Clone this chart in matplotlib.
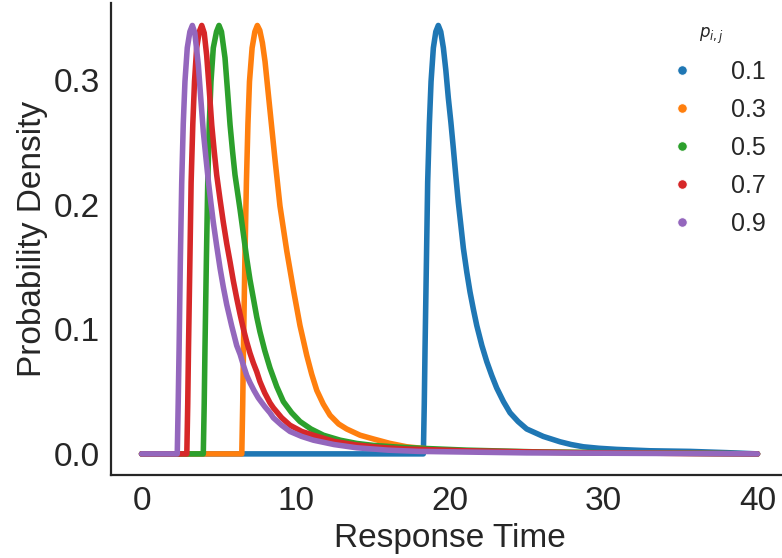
import matplotlib
matplotlib.use("Agg")
import matplotlib.pyplot as plt
from matplotlib.lines import Line2D

plt.rcParams['font.family'] = ['Liberation Sans', 'DejaVu Sans']

# values
p_labels = ['0.1', '0.3', '0.5', '0.7', '0.9']
colors = ['#1f77b4', '#ff7f0e', '#2ca02c', '#d62728', '#9467bd']

x_01 = [0, 18.30, 18.36, 18.41, 18.50, 18.58, 18.69, 18.80, 18.95, 19.11, 19.27, 19.43,
        19.60, 19.76, 19.92, 20.09, 20.25, 20.41, 20.57, 20.74, 20.90, 21.12, 21.33,
        21.55, 21.77, 22.10, 22.42, 22.74, 23.06, 23.50, 23.93, 24.45, 25.01, 25.55,
        26.09, 26.60, 27.18, 27.90, 28.69, 29.70, 30.86, 33.02, 35.62, 38.0, 40]
y_01 = [0, 0, 0.040, 0.085, 0.155, 0.218, 0.265, 0.299, 0.326, 0.339, 0.344, 0.339,
        0.326, 0.308, 0.286, 0.266, 0.245, 0.223, 0.202, 0.183, 0.165, 0.146, 0.130,
        0.116, 0.103, 0.087, 0.074, 0.063, 0.053, 0.042, 0.033, 0.026, 0.020, 0.017,
        0.014, 0.012, 0.0097, 0.0075, 0.0057, 0.0045, 0.0036, 0.0025, 0.002, 0.001, 0.0]

x_03 = [0, 6.51, 6.57, 6.62, 6.71, 6.81, 6.91, 7.01, 7.18, 7.36, 7.52, 7.68, 7.85,
        8.02, 8.34, 8.67, 8.99, 9.43, 9.86, 10.29, 10.73, 11.05, 11.38, 11.80, 12.24,
        12.80, 13.32, 14.19, 15.05, 16.10, 17.22, 19.38, 22.63, 30.0, 40]
y_03 = [0, 0, 0.040, 0.085, 0.155, 0.218, 0.265, 0.299, 0.326, 0.339, 0.344, 0.340,
        0.330, 0.315, 0.276, 0.236, 0.199, 0.163, 0.132, 0.103, 0.079, 0.064, 0.051,
        0.040, 0.031, 0.024, 0.020, 0.015, 0.012, 0.0085, 0.0057, 0.003, 0.0017,
        0.0008, 0.0]

x_05 = [0, 4.01, 4.07, 4.12, 4.21, 4.30, 4.40, 4.51, 4.66, 4.87, 5.03, 5.19, 5.42,
        5.58, 5.75, 5.91, 6.07, 6.40, 6.62, 6.83, 7.04, 7.26, 7.48, 7.69, 8.00, 8.34,
        8.78, 9.21, 9.75, 10.29, 11.00, 11.81, 12.90, 13.97, 15.05, 16.60, 18.30,
        21.12, 26.0, 40]
y_05 = [0, 0, 0.040, 0.085, 0.155, 0.218, 0.265, 0.299, 0.326, 0.339, 0.344, 0.339,
        0.318, 0.292, 0.264, 0.243, 0.224, 0.196, 0.176, 0.157, 0.140, 0.125, 0.110,
        0.098, 0.083, 0.069, 0.054, 0.042, 0.033, 0.026, 0.020, 0.015, 0.011, 0.0084,
        0.0068, 0.0055, 0.0044, 0.003, 0.0015, 0.0]

x_07 = [0, 2.94, 3.00, 3.05, 3.14, 3.22, 3.33, 3.44, 3.58, 3.75, 3.91, 4.07, 4.23,
        4.40, 4.56, 4.72, 4.88, 5.10, 5.31, 5.53, 5.75, 5.96, 6.18, 6.40, 6.62, 6.83,
        7.04, 7.26, 7.48, 7.69, 8.00, 8.34, 8.56, 9.10, 9.64, 10.40, 11.16, 12.50,
        13.97, 15.50, 17.0, 21.0, 28.0, 40]
y_07 = [0, 0, 0.040, 0.085, 0.155, 0.218, 0.265, 0.299, 0.326, 0.339, 0.344, 0.338,
        0.320, 0.292, 0.264, 0.243, 0.224, 0.204, 0.186, 0.169, 0.154, 0.139, 0.125,
        0.112, 0.100, 0.090, 0.081, 0.073, 0.066, 0.058, 0.049, 0.041, 0.037, 0.029,
        0.023, 0.018, 0.015, 0.010, 0.0071, 0.0052, 0.004, 0.0025, 0.001, 0.0]

x_09 = [0, 2.32, 2.38, 2.44, 2.52, 2.61, 2.71, 2.82, 2.97, 3.14, 3.30, 3.46, 3.69,
        3.85, 4.01, 4.18, 4.34, 4.50, 4.66, 4.88, 5.10, 5.31, 5.53, 5.85, 6.18, 6.40,
        6.62, 6.83, 7.05, 7.30, 7.58, 8.00, 8.34, 8.56, 9.10, 9.64, 10.40, 11.16,
        12.50, 13.97, 16.0, 18.0, 25.0, 40]
y_09 = [0, 0, 0.040, 0.085, 0.155, 0.218, 0.265, 0.299, 0.326, 0.339, 0.344, 0.338,
        0.312, 0.285, 0.259, 0.238, 0.219, 0.202, 0.186, 0.167, 0.149, 0.134, 0.120,
        0.103, 0.087, 0.080, 0.071, 0.063, 0.057, 0.051, 0.045, 0.038, 0.033, 0.029,
        0.023, 0.018, 0.014, 0.011, 0.0075, 0.0049, 0.003, 0.002, 0.0008, 0.0]

xs = [x_01, x_03, x_05, x_07, x_09]
ys = [y_01, y_03, y_05, y_07, y_09]

fig = plt.figure(figsize=(7.82, 5.58), dpi=100)
ax = fig.add_axes([0.1416, 0.1482, 0.8665, 0.8459])

for x, y, c in zip(xs, ys, colors):
    ax.plot(x, y, color=c, lw=4, solid_capstyle='round', solid_joinstyle='round')

ax.set_xlim(-2, 42)
ax.set_ylim(-0.0172, 0.3618)
ax.set_xticks([0, 10, 20, 30, 40])
ax.set_yticks([0.0, 0.1, 0.2, 0.3])
ax.set_yticklabels(['0.0', '0.1', '0.2', '0.3'])
ax.tick_params(length=0, pad=8, labelsize=24, labelcolor='#262626')
for s in ['top', 'right']:
    ax.spines[s].set_visible(False)
for s in ['left', 'bottom']:
    ax.spines[s].set_color('#262626')
    ax.spines[s].set_linewidth(1.6)

ax.set_xlabel('Response Time', fontsize=24, color='#262626')
ax.set_ylabel('Probability Density', fontsize=24, color='#262626')

handles = [Line2D([], [], ls='none', marker='o', ms=7, mfc=c, mec='white', mew=0.8)
           for c in colors]
leg = ax.legend(handles, p_labels, title='$p_{i,j}$', loc='upper right',
                frameon=False, fontsize=18, title_fontsize=12,
                labelspacing=0.56, handletextpad=0.95)
for t in leg.get_texts():
    t.set_color('#262626')
leg.get_title().set_color('#262626')

fig.savefig('out.png', dpi=100)
